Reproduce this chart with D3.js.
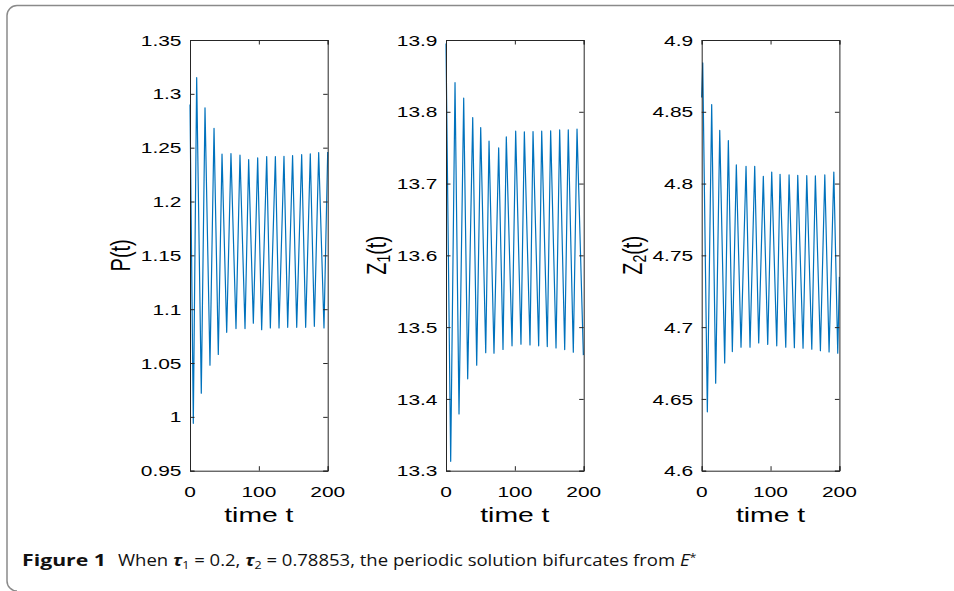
<!DOCTYPE html>
<html><head><meta charset="utf-8">
<script src="https://cdn.jsdelivr.net/npm/d3@7"></script>
<style>body{margin:0;background:#fff}svg{display:block}</style>
</head><body>
<svg id="c" width="954" height="591"></svg>
<script>
// ---------- data ----------
const timeTicks = [0, 100, 200];
const pTicks  = [0.95, 1, 1.05, 1.1, 1.15, 1.2, 1.25, 1.3, 1.35];
const z1Ticks = [13.3, 13.4, 13.5, 13.6, 13.7, 13.8, 13.9];
const z2Ticks = [4.6, 4.65, 4.7, 4.75, 4.8, 4.85, 4.9];

const tP = [0, 4.8, 9.7, 16.4, 21.8, 29, 34.9, 41.1, 46.5, 53.3, 59.5, 66.8, 72.6, 79.9, 85.2, 92, 98.3, 104.1, 111.4, 116.7, 124, 129.3, 136.5, 141.9, 149, 155, 162.2, 168, 174.7, 180.6, 186.9, 194.6, 200];
const vP = [1.29, 0.994, 1.315, 1.022, 1.287, 1.048, 1.268, 1.058, 1.244, 1.0785, 1.2445, 1.082, 1.243, 1.082, 1.239, 1.087, 1.2405, 1.081, 1.2417, 1.0826, 1.2417, 1.0826, 1.242, 1.0832, 1.2427, 1.0832, 1.2435, 1.0832, 1.2443, 1.0841, 1.2455, 1.0826, 1.246];

const tZ1 = [0, 6.8, 13.1, 18.9, 25.7, 31.5, 38.8, 44.6, 50.4, 57.7, 62.5, 69.7, 76.5, 82.8, 87.6, 95.9, 101.2, 108.9, 113.8, 122, 126.4, 134.6, 139, 147.1, 152, 159.8, 165.1, 172.4, 177.6, 184.9, 190.3, 199.5];
const vZ1 = [13.895, 13.313, 13.8405, 13.379, 13.819, 13.428, 13.792, 13.447, 13.778, 13.4645, 13.759, 13.4636, 13.7496, 13.469, 13.765, 13.474, 13.773, 13.4762, 13.772, 13.4752, 13.7725, 13.474, 13.773, 13.4729, 13.7735, 13.471, 13.7747, 13.4687, 13.775, 13.465, 13.776, 13.461];

const tZ2 = [0, 1.5, 8.2, 14.5, 20.3, 26.2, 33.4, 38.7, 44.5, 50.3, 57.1, 64.4, 70.2, 77, 82.8, 89.5, 95.9, 101.7, 109, 113.8, 122.1, 126.9, 134.6, 139.5, 147.2, 152.6, 159.9, 165.1, 172.4, 178.8, 185, 191.9, 197.6, 200];
const vZ2 = [4.86, 4.884, 4.641, 4.855, 4.661, 4.837, 4.675, 4.830, 4.683, 4.813, 4.686, 4.812, 4.686, 4.812, 4.689, 4.805, 4.688, 4.808, 4.687, 4.8065, 4.686, 4.806, 4.6857, 4.8058, 4.6853, 4.8055, 4.6846, 4.8053, 4.6836, 4.806, 4.6827, 4.808, 4.6818, 4.735];

const xLabel = "time t";
const yLabels = [["P", null], ["Z", "1"], ["Z", "2"]];

// ---------- layout ----------
const svg = d3.select("#c");
const yTop = 40, yBot = 470.7, pw = 137.7;
const lefts = [190, 446, 701.7];
const SX = 1.35;               // horizontal stretch of the original figure
const FONT = "'Liberation Sans', Arial, Helvetica, sans-serif";
const AX = "#262626", LINE = "#0072BD";
const fmt = d => String(+d.toFixed(2));

const series = [
  {t: tP,  v: vP,  ticks: pTicks},
  {t: tZ1, v: vZ1, ticks: z1Ticks},
  {t: tZ2, v: vZ2, ticks: z2Ticks}
];

// frame
svg.append("path")
  .attr("d", "M954,5.5 L17,5.5 A10,10 0 0 0 7,15.5 L7,581 A10,10 0 0 0 17,591")
  .attr("fill", "none").attr("stroke", "#8a8a8a").attr("stroke-width", 1.5);

function stretchedText(g, x, y, txt, size, anchor, rotate) {
  const gg = g.append("g").attr("transform", `translate(${x},${y}) scale(${SX},1)` + (rotate ? " rotate(-90)" : ""));
  return gg.append("text").attr("font-family", FONT).attr("font-size", size)
    .attr("text-anchor", anchor).attr("fill", "#000").text(txt);
}

series.forEach((s, i) => {
  const x0 = lefts[i];
  const x = d3.scaleLinear().domain([0, 200]).range([x0, x0 + pw]);
  const y = d3.scaleLinear().domain(d3.extent(s.ticks)).range([yBot, yTop]);
  const g = svg.append("g");

  const pts = s.t.map((t, k) => [t, s.v[k]]);
  g.append("path").datum(pts)
    .attr("d", d3.line().x(d => x(d[0])).y(d => y(d[1])))
    .attr("fill", "none").attr("stroke", LINE).attr("stroke-width", 1.2)
    .attr("stroke-linejoin", "round");

  const tl = 4.5;
  const axL = d3.axisLeft(y).tickValues(s.ticks).tickSize(-tl).tickFormat("");
  const axR = d3.axisRight(y).tickValues(s.ticks).tickSize(-tl).tickFormat("");
  const axB = d3.axisBottom(x).tickValues(timeTicks).tickSize(-tl).tickFormat("");
  const axT = d3.axisTop(x).tickValues(timeTicks).tickSize(-tl).tickFormat("");
  [[axL, `translate(${x0},0)`], [axR, `translate(${x0 + pw},0)`],
   [axB, `translate(0,${yBot})`], [axT, `translate(0,${yTop})`]].forEach(([a, tr]) => {
    const ag = g.append("g").attr("transform", tr).call(a);
    ag.selectAll("path,line").attr("stroke", AX).attr("stroke-width", 1);
  });

  s.ticks.forEach(v => {
    stretchedText(g, x0 - 8.5, y(v) + 5.6, fmt(v), 15.5, "end");
  });
  timeTicks.forEach(v => {
    stretchedText(g, x(v), yBot + 26.5, fmt(v), 15.5, "middle");
  });

  stretchedText(g, x0 + pw / 2, yBot + 51, xLabel, 21, "middle");

  const yl = stretchedText(g, x0 - 60, (yTop + yBot) / 2, "", 20, "middle", true);
  yl.append("tspan").text(yLabels[i][0]);
  if (yLabels[i][1]) yl.append("tspan").attr("font-size", 14).attr("dy", 3).text(yLabels[i][1]);
  yl.append("tspan").attr("dy", yLabels[i][1] ? -3 : 0).text("(t)");
});

// caption
const CAPFONT = "'Open Sans', 'Noto Sans', sans-serif";
function fitText(el, x0, target) {
  const w = el.node().getComputedTextLength();
  el.attr("transform", `translate(${x0},0) scale(${target / w},1) translate(${-x0},0)`);
}
const cap1 = svg.append("text").attr("x", 22).attr("y", 566)
  .attr("font-family", CAPFONT).attr("font-size", 16).attr("font-weight", 700)
  .attr("fill", "#111").text("Figure 1");
fitText(cap1, 22, 84);
const cap = svg.append("text").attr("x", 118).attr("y", 566)
  .attr("font-family", CAPFONT).attr("font-size", 15.5).attr("fill", "#111");
cap.append("tspan").text("When ");
cap.append("tspan").attr("font-weight", 700).attr("font-style", "italic").text("\u03C4");
cap.append("tspan").attr("font-size", 10.5).attr("dy", 3).text("1");
cap.append("tspan").attr("dy", -3).text(" = 0.2, ");
cap.append("tspan").attr("font-weight", 700).attr("font-style", "italic").text("\u03C4");
cap.append("tspan").attr("font-size", 10.5).attr("dy", 3).text("2");
cap.append("tspan").attr("dy", -3).text(" = 0.78853, the periodic solution bifurcates from ");
cap.append("tspan").attr("font-style", "italic").text("E");
cap.append("tspan").attr("font-size", 10.5).attr("dy", -5).text("*");
fitText(cap, 118, 579);
</script>
</body></html>
